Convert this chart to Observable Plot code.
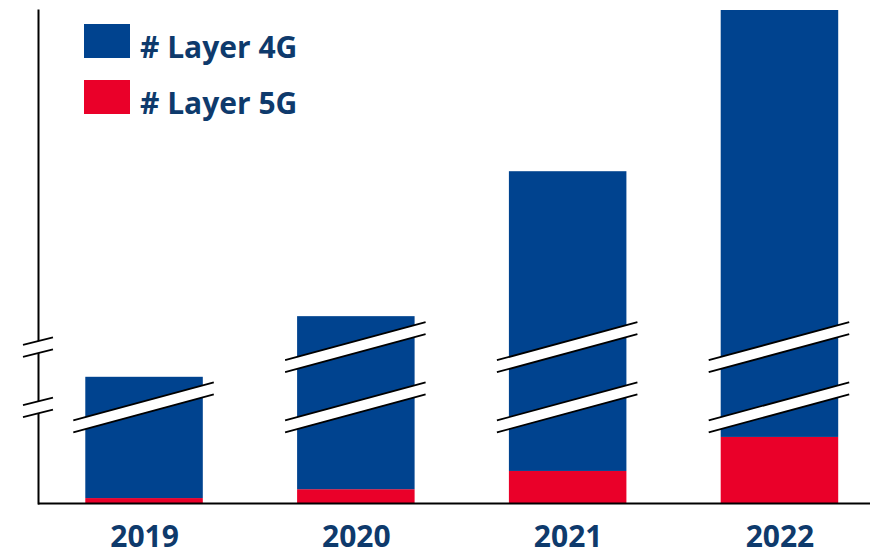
<!DOCTYPE html>
<html><head><meta charset="utf-8">
<script src="https://cdn.jsdelivr.net/npm/d3@7"></script>
<script src="https://cdn.jsdelivr.net/npm/@observablehq/plot@0.6"></script>
<style>body{margin:0;background:#fff;}</style>
</head><body><div id="chart"></div>
<script>
const years = ["2019", "2020", "2021", "2022"];
const layer5G = [1.0, 2.8, 6.5, 13.4];
const layer4G = [24.6, 35.1, 60.8, 86.6];
const seriesNames = ["# Layer 4G", "# Layer 5G"];
const seriesColors = ["#00438F", "#EA0029"];
const axisBreaks = [19.4, 31.6];

const textColor = "#0e3a6c";
const rows = [];
years.forEach((yr, i) => {
  rows.push({year: yr, series: "# Layer 5G", value: layer5G[i]});
  rows.push({year: yr, series: "# Layer 4G", value: layer4G[i]});
});
const totals = years.map((yr, i) => ({year: yr, total: layer5G[i] + layer4G[i]}));

const plot = Plot.plot({
  width: 870, height: 552,
  marginTop: 10, marginBottom: 49, marginLeft: 38, marginRight: 0,
  style: {fontFamily: "'Open Sans', sans-serif", background: "#fff"},
  x: {domain: years, paddingInner: 0.4452, paddingOuter: 0.1867, align: 0.598, round: false, label: null},
  y: {domain: [0, 100], axis: null},
  color: {domain: seriesNames, range: seriesColors},
  marks: [
    Plot.barY(rows, {x: "year", y: "value", fill: "series", order: ["# Layer 5G", "# Layer 4G"]}),
    Plot.axisX({tickSize: 0, tickPadding: 22, fontSize: 30, fontWeight: "bold", fill: textColor, label: null}),
    Plot.ruleY([0], {stroke: "#000", strokeWidth: 2}),
    Plot.frame({anchor: "left", stroke: "#000", strokeWidth: 2})
  ]
});
document.getElementById("chart").appendChild(plot);

const svgNode = plot.tagName.toLowerCase() === "svg" ? plot : plot.querySelector("svg");
const svg = d3.select(svgNode);
const xs = plot.scale("x"), ys = plot.scale("y");
const g = svg.append("g");
const gapHalf = 6;

function drawBreak(x0, x1, yc, rise) {
  const a1 = [x0, yc - gapHalf + rise], b1 = [x1, yc - gapHalf - rise];
  const a2 = [x0, yc + gapHalf + rise], b2 = [x1, yc + gapHalf - rise];
  g.append("polygon").attr("points", [a1, b1, b2, a2].map(p => p.join(",")).join(" ")).attr("fill", "#fff");
  [[a1, b1], [a2, b2]].forEach(([p, q]) => {
    g.append("line").attr("x1", p[0]).attr("y1", p[1]).attr("x2", q[0]).attr("y2", q[1])
      .attr("stroke", "#000").attr("stroke-width", 1.8);
  });
}

totals.forEach(d => {
  const bx = xs.apply(d.year), bw = xs.bandwidth;
  axisBreaks.forEach(b => {
    if (b < d.total) drawBreak(bx - 12, bx + bw + 11, ys.apply(b), 19);
  });
});
const axisX = 38;
axisBreaks.forEach(b => drawBreak(axisX - 15, axisX + 15, ys.apply(b), 3.75));

// legend
const lg = svg.append("g");
seriesNames.forEach((name, i) => {
  const top = 24 + i * 56;
  lg.append("rect").attr("x", 84).attr("y", top).attr("width", 46).attr("height", 34).attr("fill", seriesColors[i]);
  lg.append("text").attr("x", 140).attr("y", top + 34).attr("font-size", 30).attr("font-weight", "bold")
    .attr("text-anchor", "start")
    .attr("font-family", "'Open Sans', sans-serif").attr("fill", textColor).text(name);
});
</script>
</body></html>
